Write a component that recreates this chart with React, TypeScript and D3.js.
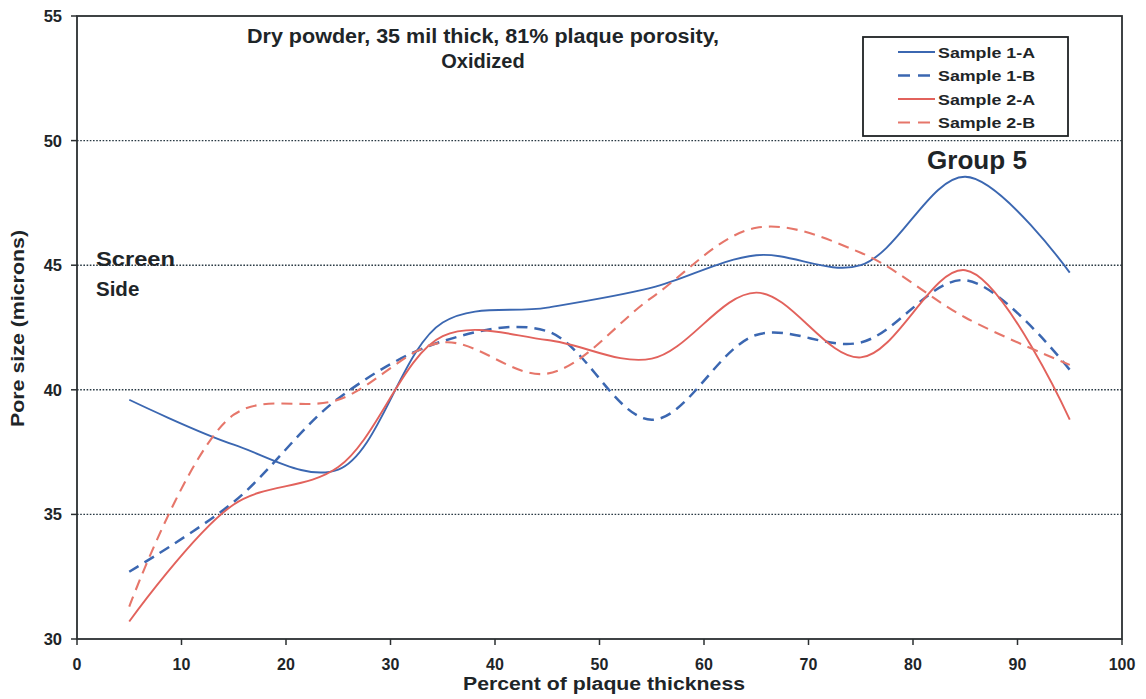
import React from "react";
import * as d3 from "d3";

// Percent of plaque thickness at which pore size was measured
const positions = [5, 15, 25, 35, 45, 55, 65, 75, 85, 95];

// Pore size (microns) per sample
const sample1A = [39.6, 37.8, 36.8, 42.7, 43.3, 44.1, 45.4, 45.0, 48.55, 44.7];
const sample1B = [32.7, 35.5, 39.65, 41.95, 42.35, 38.8, 42.2, 41.9, 44.4, 40.8];
const sample2A = [30.7, 35.4, 36.9, 42.15, 42.0, 41.25, 43.9, 41.3, 44.8, 38.8];
const sample2B = [31.3, 39.0, 39.6, 41.9, 40.65, 43.7, 46.5, 45.5, 42.9, 41.0];

const xTicks = [0, 10, 20, 30, 40, 50, 60, 70, 80, 90, 100];
const yTicks = [30, 35, 40, 45, 50, 55];
const gridValues = [35, 40, 45, 50];

const seriesNames = ["Sample 1-A", "Sample 1-B", "Sample 2-A", "Sample 2-B"];
const seriesValues = [sample1A, sample1B, sample2A, sample2B];
const seriesColors = ["#3b67b1", "#3b67b1", "#e2625c", "#e6766a"];
const seriesDash = [null, "11 7", null, "11 7"];
const seriesWidth = [1.9, 2.5, 1.9, 2.1];

const W = 1146;
const H = 699;
const left = 77;
const right = 1122;
const top = 16;
const bottom = 639;

export default function App() {
  const x = d3.scaleLinear().domain([0, 100]).range([left, right]);
  const y = d3.scaleLinear().domain([30, 55]).range([bottom, top]);
  const line = d3
    .line<number>()
    .x((_, i) => x(positions[i]))
    .y((v) => y(v))
    .curve(d3.curveCatmullRom.alpha(0.5));

  const font = "Arial, 'Liberation Sans', Helvetica, sans-serif";
  const textColor = "#1e2528";

  return (
    <svg
      width={W}
      height={H}
      style={{ position: "absolute", left: 0, top: 0, background: "#fff" }}
      fontFamily={font}
      fontWeight="bold"
    >
      {/* dotted gridlines */}
      {gridValues.map((v) => (
        <line
          key={v}
          x1={left}
          x2={right}
          y1={y(v)}
          y2={y(v)}
          stroke="#2a3a44"
          strokeWidth={1.4}
          strokeDasharray="1.6 1.6"
        />
      ))}

      {/* series */}
      {seriesValues.map((vals, i) => (
        <path
          key={seriesNames[i]}
          d={line(vals) || ""}
          fill="none"
          stroke={seriesColors[i]}
          strokeWidth={seriesWidth[i]}
          strokeDasharray={seriesDash[i] || undefined}
        />
      ))}

      {/* plot frame */}
      <rect
        x={left}
        y={top}
        width={right - left}
        height={bottom - top}
        fill="none"
        stroke="#2b2f31"
        strokeWidth={1.8}
      />

      {/* y axis */}
      {yTicks.map((v) => (
        <g key={v}>
          <line x1={left - 6} x2={left} y1={y(v)} y2={y(v)} stroke="#2b2f31" strokeWidth={1.5} />
          <text x={62} y={y(v)} dy="0.36em" textAnchor="end" fontSize={16.5} fill={textColor}>
            {v}
          </text>
        </g>
      ))}

      {/* x axis */}
      {xTicks.map((v) => (
        <g key={v}>
          <line x1={x(v)} x2={x(v)} y1={bottom} y2={bottom + 6} stroke="#2b2f31" strokeWidth={1.5} />
          <text x={x(v)} y={670} textAnchor="middle" fontSize={16} fill={textColor}>
            {v}
          </text>
        </g>
      ))}

      <text
        x={604}
        y={690}
        textAnchor="middle"
        fontSize={17.5}
        textLength={282}
        lengthAdjust="spacingAndGlyphs"
        fill={textColor}
      >
        Percent of plaque thickness
      </text>
      <text
        transform={`translate(24, ${(top + bottom) / 2 + 1}) rotate(-90)`}
        textAnchor="middle"
        fontSize={18.5}
        textLength={197}
        lengthAdjust="spacingAndGlyphs"
        fill={textColor}
      >
        Pore size (microns)
      </text>

      {/* annotations */}
      <text
        x={483}
        y={43}
        textAnchor="middle"
        fontSize={20}
        textLength={472}
        lengthAdjust="spacingAndGlyphs"
        fill={textColor}
      >
        Dry powder, 35 mil thick, 81% plaque porosity,
      </text>
      <text x={483} y={68} textAnchor="middle" fontSize={20} fill={textColor}>
        Oxidized
      </text>
      <text x={96} y={266} fontSize={20.5} textLength={79} lengthAdjust="spacingAndGlyphs" fill={textColor}>
        Screen
      </text>
      <text x={96} y={296} fontSize={20.5} fill={textColor}>
        Side
      </text>
      <text
        x={977}
        y={169}
        textAnchor="middle"
        fontSize={25}
        textLength={100}
        lengthAdjust="spacingAndGlyphs"
        fill={textColor}
      >
        Group 5
      </text>

      {/* legend */}
      <rect x={863} y={37} width={205} height={99} fill="#fff" stroke="#1e2224" strokeWidth={1.8} />
      {seriesNames.map((name, i) => {
        const ly = 52 + i * 23.5;
        return (
          <g key={name}>
            <line
              x1={898}
              x2={935}
              y1={ly}
              y2={ly}
              stroke={seriesColors[i]}
              strokeWidth={seriesWidth[i]}
              strokeDasharray={seriesDash[i] ? "12 8" : undefined}
            />
            <text
              x={938}
              y={ly}
              dy="0.36em"
              fontSize={15.5}
              textLength={97}
              lengthAdjust="spacingAndGlyphs"
              fill={textColor}
            >
              {name}
            </text>
          </g>
        );
      })}
    </svg>
  );
}
